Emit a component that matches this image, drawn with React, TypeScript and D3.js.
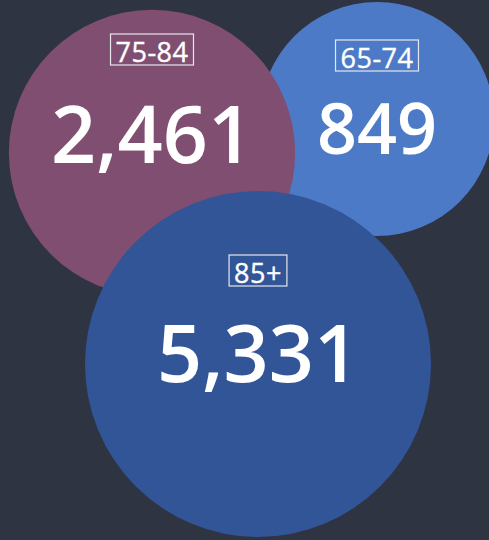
import React, { useEffect, useRef } from 'react';
import * as d3 from 'd3';

// age groups and counts
const ageGroups = ['65-74', '75-84', '85+'];
const counts = [849, 2461, 5331];
const colors = ['#4d7ac7', '#804e71', '#315597'];

// where each bubble sits (centres) and where its texts go, relative to centre
const layout = [
    { cx: 377, cy: 119, labelDy: -51, valueDy: 35, valueSize: 70 },
    { cx: 152, cy: 153, labelDy: -91, valueDy: 10, valueSize: 79 },
    { cx: 258, cy: 364, labelDy: -81, valueDy: 18, valueSize: 79 },
];

const W = 489;
const H = 540;
const FONT = '"Open Sans", "Noto Sans", sans-serif';

const App = () => {
    const svgRef = useRef<SVGSVGElement | null>(null);

    useEffect(() => {
        document.body.style.margin = '0';
        document.body.style.background = '#2f3442';
        if (!svgRef.current) return;

        const svg = d3.select(svgRef.current);
        svg.selectAll('*').remove();

        const r = d3.scaleSqrt()
            .domain([d3.min(counts) as number, d3.max(counts) as number])
            .range([117, 173]);

        const fmt = d3.format(',');

        const items = ageGroups.map((g, i) => ({
            group: g,
            value: counts[i],
            color: colors[i],
            ...layout[i],
        }));

        svg.append('rect')
            .attr('width', W)
            .attr('height', H)
            .attr('fill', '#2f3442');

        // draw order: 65-74 under 75-84, 85+ on top
        svg.selectAll('circle.bubble')
            .data(items)
            .enter()
            .append('circle')
            .attr('class', 'bubble')
            .attr('cx', d => d.cx)
            .attr('cy', d => d.cy)
            .attr('r', d => r(d.value))
            .attr('fill', d => d.color);

        items.forEach(d => {
            const g = svg.append('g').attr('transform', `translate(${d.cx},${d.cy})`);

            const label = g.append('text')
                .attr('x', 0)
                .attr('y', d.labelDy)
                .attr('text-anchor', 'middle')
                .attr('font-family', FONT)
                .attr('font-size', 27)
                .attr('letter-spacing', 0.5)
                .attr('fill', '#ffffff')
                .attr('stroke', '#ffffff')
                .attr('stroke-width', 0.4)
                .text(d.group);

            const bb = (label.node() as SVGTextElement).getBBox();
            g.insert('rect', 'text')
                .attr('x', -bb.width / 2 - 5)
                .attr('y', d.labelDy - 28)
                .attr('width', bb.width + 10)
                .attr('height', 31)
                .attr('fill', 'none')
                .attr('stroke', '#e6e6ee')
                .attr('stroke-width', 1.2);

            g.append('text')
                .attr('x', 0)
                .attr('y', d.valueDy)
                .attr('text-anchor', 'middle')
                .attr('font-family', FONT)
                .attr('font-weight', 600)
                .attr('font-size', d.valueSize)
                .attr('fill', '#ffffff')
                .text(fmt(d.value));
        });
    }, []);

    return (
        <svg ref={svgRef} width={W} height={H} style={{ display: 'block' }} />
    );
};

export default App;
